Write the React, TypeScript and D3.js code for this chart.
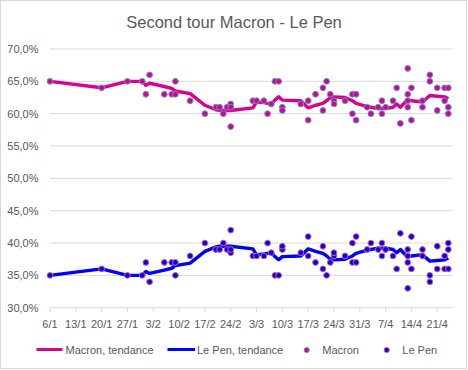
import React from "react";
import * as d3 from "d3";

const pollDates = [
  "2017-01-06","2017-01-20","2017-01-27","2017-01-31","2017-02-01","2017-02-02","2017-02-06","2017-02-08","2017-02-09","2017-02-09",
  "2017-02-13","2017-02-17","2017-02-20","2017-02-21","2017-02-22","2017-02-23","2017-02-24","2017-02-24","2017-02-24","2017-03-02",
  "2017-03-03","2017-03-05","2017-03-06","2017-03-07","2017-03-08","2017-03-09","2017-03-10","2017-03-10","2017-03-15","2017-03-17",
  "2017-03-17","2017-03-19","2017-03-21","2017-03-21","2017-03-22","2017-03-23","2017-03-24","2017-03-24","2017-03-27","2017-03-29",
  "2017-03-29","2017-03-30","2017-03-30","2017-04-02","2017-04-03","2017-04-05","2017-04-06","2017-04-06","2017-04-07","2017-04-09",
  "2017-04-10","2017-04-11","2017-04-13","2017-04-13","2017-04-13","2017-04-13","2017-04-14","2017-04-14","2017-04-17","2017-04-17",
  "2017-04-19","2017-04-19","2017-04-21","2017-04-21","2017-04-23","2017-04-23","2017-04-24","2017-04-24","2017-04-24",
];
const macronPolls = [
  65,64,65,65,63,66,63,63,63,65,
  62,60,61,61,60,61,61.5,61,58,62,
  62,62,60,61.5,65,65,61,60.5,61.5,62,
  59,63,64,60.5,65,63,62,61.5,62,63,
  60,63,59,61,60,61,62,60,61,62,
  64,58.5,67,63,62,61,64,59,62,61,
  66,65,64,60.5,64,62,64,61,60,
];
const lePenPolls = [
  35,36,35,35,37,34,37,37,37,35,
  38,40,39,39,40,39,38.5,39,42,38,
  38,38,40,38.5,35,35,39,39.5,38.5,38,
  41,37,36,39.5,35,37,38,38.5,38,37,
  40,37,41,39,40,39,38,40,39,38,
  36,41.5,33,37,38,39,36,41,38,39,
  34,35,36,39.5,36,38,36,39,40,
];

const trendDates = [
  "2017-01-06","2017-01-20","2017-01-27","2017-01-31","2017-02-01","2017-02-02","2017-02-06","2017-02-08","2017-02-09","2017-02-13",
  "2017-02-17","2017-02-20","2017-02-21","2017-02-22","2017-02-23","2017-02-24","2017-03-02","2017-03-03","2017-03-05","2017-03-06",
  "2017-03-07","2017-03-08","2017-03-09","2017-03-10","2017-03-15","2017-03-17","2017-03-19","2017-03-21","2017-03-22","2017-03-23",
  "2017-03-24","2017-03-27","2017-03-29","2017-03-30","2017-04-02","2017-04-03","2017-04-05","2017-04-06","2017-04-07","2017-04-09",
  "2017-04-10","2017-04-11","2017-04-13","2017-04-14","2017-04-17","2017-04-19","2017-04-21","2017-04-23","2017-04-24",
];
const macronTrend = [
  65.0,64.0,65.0,65.0,64.4,64.7,64.2,63.9,63.5,63.1,
  61.3,60.6,60.5,60.5,60.5,60.5,60.9,61.8,61.7,61.6,
  61.5,62.1,62.6,62.1,62.0,60.9,61.3,61.6,62.0,62.5,
  62.6,62.5,62.0,61.6,61.1,61.0,60.8,60.8,60.8,61.0,
  61.5,61.0,62.2,62.0,61.8,62.8,62.7,62.6,62.3,
];
const lePenTrend = [
  35.0,36.0,35.0,35.0,35.6,35.3,35.8,36.1,36.5,36.9,
  38.7,39.4,39.5,39.5,39.5,39.5,39.1,38.2,38.3,38.4,
  38.5,37.9,37.4,37.9,38.0,39.1,38.7,38.4,38.0,37.5,
  37.4,37.5,38.0,38.4,38.9,39.0,39.2,39.2,39.2,39.0,
  38.5,39.0,37.8,38.0,38.2,37.2,37.3,37.4,37.7,
];

const yTicks = [30, 35, 40, 45, 50, 55, 60, 65, 70];
const xTickDates = [
  "2017-01-06","2017-01-13","2017-01-20","2017-01-27","2017-02-03","2017-02-10","2017-02-17","2017-02-24",
  "2017-03-03","2017-03-10","2017-03-17","2017-03-24","2017-03-31","2017-04-07","2017-04-14","2017-04-21",
];
const xDomain = ["2017-01-06", "2017-04-25"];

const TITLE = "Second tour Macron - Le Pen";
const MAGENTA = "#d9008c";
const BLUE = "#0000ff";
const FONT = "'Liberation Sans', Arial, sans-serif";

export default function App() {
  const parse = d3.timeParse("%Y-%m-%d");
  const W = 468, H = 370;
  const left = 50, right = 452, top = 49, bottom = 307.7;
  const x = d3.scaleTime().domain(xDomain.map((s) => parse(s) as Date)).range([left, right]);
  const y = d3.scaleLinear().domain([30, 70]).range([bottom, top]);
  const fmtDate = d3.timeFormat("%-d/%-m");
  const fmtPct = (v: number) => v.toFixed(1).replace(".", ",") + "%";
  const R = 2.9;

  const line = d3
    .line<[string, number]>()
    .x((d) => x(parse(d[0]) as Date))
    .y((d) => y(d[1]));
  const mTrend = trendDates.map((d, i) => [d, macronTrend[i]] as [string, number]);
  const lTrend = trendDates.map((d, i) => [d, lePenTrend[i]] as [string, number]);

  return (
    <div style={{ position: "fixed", left: 0, top: 0 }}>
      <svg width={W} height={H} style={{ display: "block", background: "#fff" }} fontFamily={FONT}>
        <rect x={0.5} y={0.5} width={466} height={368} fill="#fff" stroke="#d9d9d9" />
        <text x={234} y={28} textAnchor="middle" fontSize={16.5} fill="#595959">{TITLE}</text>
        {yTicks.map((t) => (
          <g key={t}>
            <line x1={left} x2={right + 0.7} y1={y(t)} y2={y(t)} stroke="#d9d9d9" strokeWidth={1} />
            <text x={38.5} y={y(t) + 4} textAnchor="end" fontSize={11} fill="#595959">{fmtPct(t)}</text>
          </g>
        ))}
        {xTickDates.map((s) => {
          const xx = x(parse(s) as Date);
          return (
            <g key={s}>
              <line x1={xx} x2={xx} y1={bottom} y2={bottom + 4} stroke="#d9d9d9" />
              <text x={xx} y={328} textAnchor="middle" fontSize={11} fill="#595959">{fmtDate(parse(s) as Date)}</text>
            </g>
          );
        })}
        <path d={line(mTrend) || ""} fill="none" stroke={MAGENTA} strokeWidth={3.4} strokeLinejoin="round" />
        <path d={line(lTrend) || ""} fill="none" stroke={BLUE} strokeWidth={3.4} strokeLinejoin="round" />
        {pollDates.map((s, i) => (
          <circle key={"m" + i} cx={x(parse(s) as Date)} cy={y(macronPolls[i])} r={R} fill={MAGENTA} stroke="#5b9bd5" strokeWidth={1} />
        ))}
        {pollDates.map((s, i) => (
          <circle key={"l" + i} cx={x(parse(s) as Date)} cy={y(lePenPolls[i])} r={R} fill={BLUE} stroke="#e06666" strokeWidth={1} />
        ))}
        <g fontSize={11} fill="#595959">
          <line x1={36.5} x2={62.5} y1={349.5} y2={349.5} stroke={MAGENTA} strokeWidth={3} />
          <text x={65.5} y={353.5}>Macron, tendance</text>
          <line x1={167.5} x2={195} y1={349.5} y2={349.5} stroke={BLUE} strokeWidth={3} />
          <text x={197} y={353.5}>Le Pen, tendance</text>
          <circle cx={306.7} cy={350} r={2.6} fill={MAGENTA} stroke="#5b9bd5" strokeWidth={1} />
          <text x={322.3} y={353.5}>Macron</text>
          <circle cx={386.7} cy={350} r={2.6} fill={BLUE} stroke="#e06666" strokeWidth={1} />
          <text x={402.3} y={353.5}>Le Pen</text>
        </g>
      </svg>
    </div>
  );
}
